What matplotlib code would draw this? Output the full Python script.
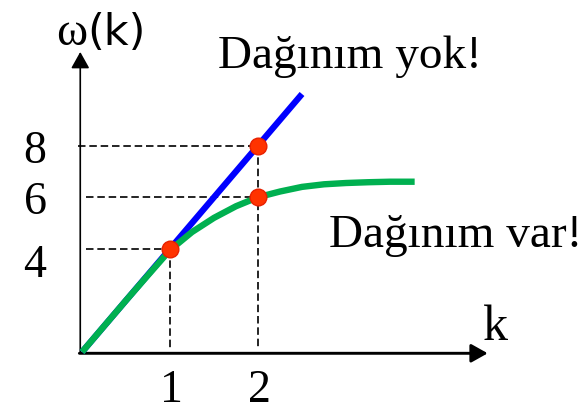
import matplotlib.pyplot as plt

# dispersion relation sketch: omega(k) with and without dispersion
k_pts = [1, 2]
w_pts = [4, 6, 8]

# no dispersion: straight line omega = c*k
k_lin = [0, 2.5]
w_lin = [0, 10]

# with dispersion: curve bends over and flattens
k_disp = [0, 0.25, 0.5, 0.75, 1.0, 1.25, 1.5, 1.75, 2.0, 2.25, 2.5, 2.75, 3.0, 3.25, 3.5, 3.78]
w_disp = [0, 1.0, 2.0, 2.98, 3.95, 4.65, 5.2, 5.65, 6.0, 6.22, 6.4, 6.5, 6.55, 6.58, 6.6, 6.6]

# marked points (k, omega)
dots_k = [1, 2, 2]
dots_w = [4, 8, 6]

serif = "Liberation Serif"
sans = "DejaVu Sans"

fig = plt.figure(figsize=(5.86, 4.13), dpi=100)
ax = fig.add_axes([0, 0, 1, 1])
ax.set_xlim(-0.932, 5.727)
ax.set_ylim(-2.364, 13.643)
ax.axis("off")

# axes with arrow heads
arrow = dict(arrowstyle="-|>,head_length=0.5,head_width=0.28", color="black",
             mutation_scale=20, shrinkA=0, shrinkB=0)
ax.annotate("", xy=(-0.02, 11.63), xytext=(-0.02, -0.05),
            arrowprops=dict(arrow, lw=1.2))
ax.annotate("", xy=(4.61, -0.05), xytext=(-0.03, -0.05),
            arrowprops=dict(arrow, lw=2.1))

# dashed guide lines
dash = dict(color="black", lw=1.2, linestyle=(0, (4.5, 2.3)))
ax.plot([-0.05, 2], [8, 8], **dash)
ax.plot([0.05, 2], [6, 6], **dash)
ax.plot([0.05, 1], [4, 4], **dash)
ax.plot([1, 1], [4, 0.15], **dash)
ax.plot([2, 2], [8, 0.15], **dash)

ax.plot(k_lin, w_lin, color="#0000FF", lw=4.5, solid_capstyle="butt", zorder=3)
ax.plot(k_disp, w_disp, color="#00B050", lw=4.6, solid_capstyle="butt", zorder=4)
ax.plot(dots_k, dots_w, "o", ms=12, mfc="#FF3300", mec="#E82000", mew=1.0,
        zorder=5)

# tick labels
w_offsets = [-28, -17, -17]
for w, off in zip(w_pts, w_offsets):
    ax.annotate(str(w), xy=(-0.534, w), xytext=(0, off), textcoords="offset pixels",
                ha="center", va="baseline", fontsize=33, family=serif)
for k in k_pts:
    ax.text(k + 0.02, -1.94, str(k), ha="center", va="baseline",
            fontsize=33, family=serif)

# axis names
ax.text(0.06, 11.9, "ω", ha="right", va="baseline", fontsize=34, family=serif)
ax.text(0.06, 11.9, "(k)", ha="left", va="baseline", fontsize=31, family=sans)
ax.text(4.7, 0.465, "k", ha="center", va="baseline", fontsize=36, family=serif)

# curve labels
ax.text(3.04, 10.99, "Dağınım yok!", ha="center", va="baseline",
        fontsize=34, family=serif)
ax.text(4.25, 4.07, "Dağınım var!", ha="center", va="baseline",
        fontsize=34, family=serif)

fig.savefig("out.png", dpi=100)
